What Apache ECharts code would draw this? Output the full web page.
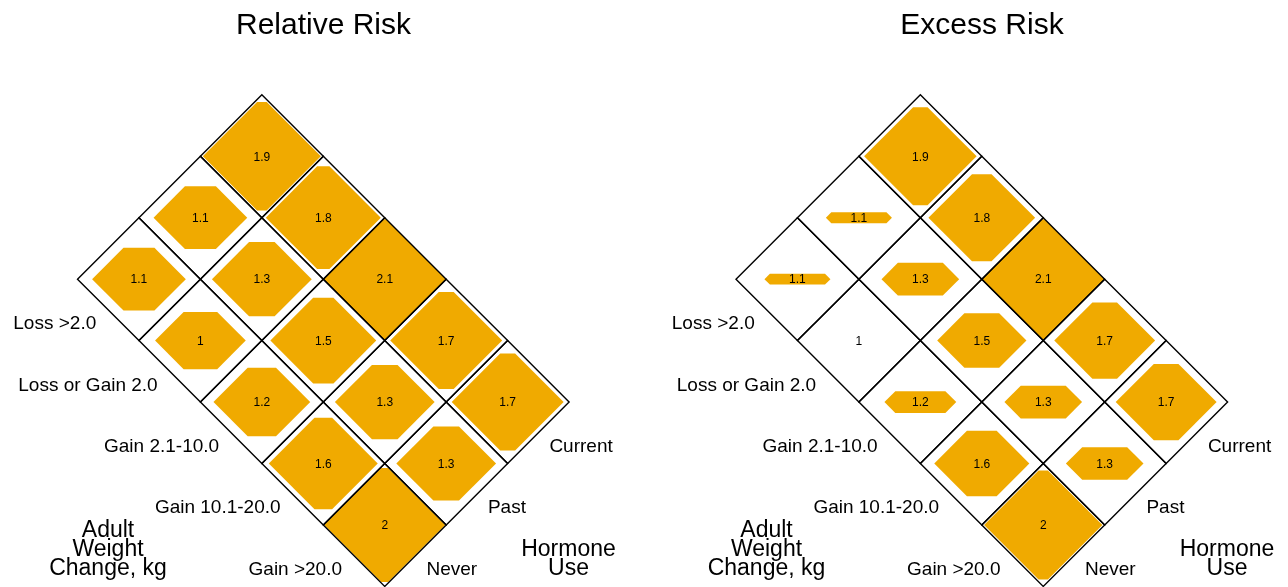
<!DOCTYPE html>
<html>
<head>
<meta charset="utf-8">
<title>Relative and Excess Risk</title>
<script src="https://cdn.jsdelivr.net/npm/echarts@6.0.0/dist/echarts.min.js"></script>
<style>
  html, body { margin: 0; padding: 0; background: #ffffff; }
  #chart { width: 1288px; height: 587px; }
</style>
</head>
<body>
<div id="chart"></div>
<script>
// Categories
const weightLabels = ['Loss >2.0', 'Loss or Gain 2.0', 'Gain 2.1-10.0', 'Gain 10.1-20.0', 'Gain >20.0'];
const hormoneLabels = ['Never', 'Past', 'Current'];
const panelTitles = ['Relative Risk', 'Excess Risk'];

// Relative risk for each weight-change group, one array per hormone use group
const riskNever   = [1.1, 1, 1.2, 1.6, 2];
const riskPast    = [1.1, 1.3, 1.5, 1.3, 1.3];
const riskCurrent = [1.9, 1.8, 2.1, 1.7, 1.7];

const FONT = '"Liberation Sans", Arial, Helvetica, sans-serif';
const FILL = '#F0AA00';

const riskByHormone = [riskNever, riskPast, riskCurrent];
const cells = [];
riskByHormone.forEach((arr, j) => arr.forEach((v, i) => cells.push([i, j, v])));
const maxRisk = Math.max(...cells.map(c => c[2]));

// Diamond lattice: a cell (i, j) sits at p = i + .5 along the weight edge and
// q = j + .5 along the hormone edge; x = p + q, y = p - q.
function toXY(p, q) { return [p + q, p - q]; }

function makeCellRenderer(mode) {
  return function (params, api) {
    const i = api.value(0), j = api.value(1), val = api.value(2);
    const p = i + 0.5, q = j + 0.5;
    const c = api.coord(toXY(p, q));
    const u = api.size([1, 1]);
    const sx = u[0], sy = u[1];
    const children = [];
    // relative panel scales by the risk itself, excess panel by risk above 1
    const frac = mode === 'relative' ? val / maxRisk : (val - 1) / (maxRisk - 1);
    if (frac > 0) {
      let hw = Math.min(1, 0.49 + 0.52 * frac);
      let hh = Math.min(0.975 * frac, hw);
      const W = hw * sx, H = hh * sy, dx = hh * sx;
      children.push({
        type: 'polygon',
        z2: 1,
        shape: { points: [
          [c[0] - W, c[1]], [c[0] - W + dx, c[1] - H], [c[0] + W - dx, c[1] - H],
          [c[0] + W, c[1]], [c[0] + W - dx, c[1] + H], [c[0] - W + dx, c[1] + H]
        ] },
        style: { fill: FILL }
      });
    }
    children.push({
      type: 'polygon',
      z2: 10,
      shape: { points: [[c[0] - sx, c[1]], [c[0], c[1] - sy], [c[0] + sx, c[1]], [c[0], c[1] + sy]] },
      style: { fill: null, stroke: '#000', lineWidth: 1.4 }
    });
    children.push({
      type: 'text',
      z2: 20,
      x: c[0], y: c[1] + 1,
      style: { text: String(val), font: '12px ' + FONT, fill: '#000', align: 'center', verticalAlign: 'middle' }
    });
    return { type: 'group', children };
  };
}

function weightLabelRenderer(params, api) {
  const i = api.value(0);
  const c = api.coord(toXY(i + 0.5, 0));
  return {
    type: 'text', x: c[0] - 12, y: c[1] + 14,
    style: { text: weightLabels[i], font: '19px ' + FONT, fill: '#000', align: 'right', verticalAlign: 'middle' }
  };
}

function hormoneLabelRenderer(params, api) {
  const j = api.value(0);
  const c = api.coord(toXY(weightLabels.length, j + 0.5));
  return {
    type: 'text', x: c[0] + 11, y: c[1] + 14,
    style: { text: hormoneLabels[j], font: '19px ' + FONT, fill: '#000', align: 'left', verticalAlign: 'middle' }
  };
}

const PANEL_SHIFT = 658.5;
const GRID_LEFT = 77.5, GRID_TOP = 94.8, GRID_SIZE = 491.6;
const modes = ['relative', 'excess'];

const grids = [], xAxes = [], yAxes = [], series = [], graphics = [];
modes.forEach((mode, k) => {
  const off = k * PANEL_SHIFT;
  grids.push({ left: GRID_LEFT + off, top: GRID_TOP, width: GRID_SIZE, height: GRID_SIZE });
  xAxes.push({ gridIndex: k, type: 'value', min: 0, max: weightLabels.length + hormoneLabels.length, show: false });
  yAxes.push({ gridIndex: k, type: 'value', min: -hormoneLabels.length, max: weightLabels.length, inverse: true, show: false });
  series.push({
    type: 'custom', xAxisIndex: k, yAxisIndex: k,
    renderItem: makeCellRenderer(mode), data: cells, silent: true, clip: false
  });
  series.push({
    type: 'custom', xAxisIndex: k, yAxisIndex: k,
    renderItem: weightLabelRenderer, data: weightLabels.map((_, i) => [i]), silent: true, clip: false
  });
  series.push({
    type: 'custom', xAxisIndex: k, yAxisIndex: k,
    renderItem: hormoneLabelRenderer, data: hormoneLabels.map((_, j) => [j]), silent: true, clip: false
  });
  graphics.push({
    type: 'text', x: 323.5 + off, y: 25.5,
    style: { text: panelTitles[k], font: '30px ' + FONT, fill: '#000', align: 'center', verticalAlign: 'middle' }
  });
  graphics.push({
    type: 'text', x: 108 + off, y: 521.5,
    style: { text: 'Adult\nWeight\nChange, kg', font: '23px ' + FONT, lineHeight: 19, fill: '#000', align: 'center', verticalAlign: 'top' }
  });
  graphics.push({
    type: 'text', x: 568.5 + off, y: 540.5,
    style: { text: 'Hormone\nUse', font: '23px ' + FONT, lineHeight: 19, fill: '#000', align: 'center', verticalAlign: 'top' }
  });
});

const chart = echarts.init(document.getElementById('chart'), null, { renderer: 'canvas' });
chart.setOption({
  animation: false,
  backgroundColor: '#ffffff',
  grid: grids,
  xAxis: xAxes,
  yAxis: yAxes,
  series: series,
  graphic: graphics
});
</script>
</body>
</html>
